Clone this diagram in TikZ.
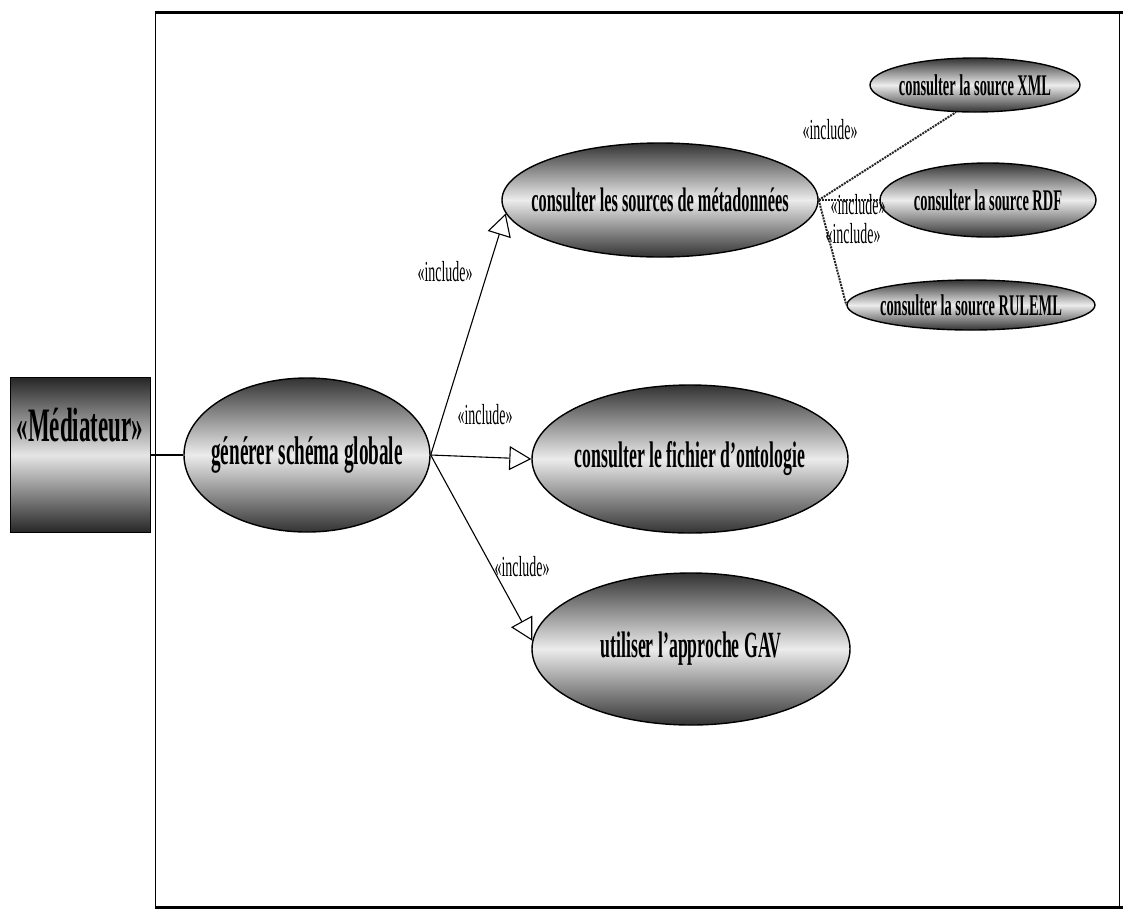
\documentclass[tikz,border=0pt]{standalone}
\usepackage{fontspec}
\setmainfont{Liberation Serif}[FakeStretch=0.48]
\usetikzlibrary{shapes}
\usetikzlibrary{arrows.meta}

\newcommand{\uctext}[1]{\makebox[0pt]{\bfseries #1}}

\tikzset{
  usecase/.style={draw=black, line width=1.4pt, ellipse, inner sep=0pt,
                  top color=gray!40!black, bottom color=gray!40!black,
                  middle color=gray!15},
  incl/.style={font=\fontsize{29}{29}\selectfont},
  inclarrow/.style={line width=1.1pt, -{Triangle[open,length=22pt,width=24pt]}},
  incldot/.style={line width=2pt, densely dotted, gray!30!black},
}

\begin{document}
\begin{tikzpicture}[x=1pt, y=-1pt]
    \useasboundingbox (0,0) rectangle (1123,914);

    % cadre du systeme
    \draw[line width=0.9pt] (155,12) rectangle (1119,907);
    \draw[line width=3pt] (155,12) -- (1123,12);
    \draw[line width=3pt] (155,907) -- (1123,907);

    % acteur
    \node[draw, rectangle, line width=0.8pt, inner sep=0pt,
          minimum width=140, text height=64, text depth=91,
          top color=gray!30!black, bottom color=black!85,
          middle color=gray!20, font=\fontsize{48}{48}\selectfont] (med) at (80,455)
    {\uctext{«Médiateur»}};

    % cas d'utilisation
    \node[usecase, minimum width=246, minimum height=154,
          font=\fontsize{40}{40}\selectfont] (gen) at (307,455)
    {\uctext{générer schéma globale}};
    \node[usecase, minimum width=316, minimum height=114,
          font=\fontsize{34}{34}\selectfont] (meta) at (660,200)
    {\uctext{consulter les sources de métadonnées}};
    \node[usecase, minimum width=316, minimum height=148,
          font=\fontsize{37}{37}\selectfont] (onto) at (690,459)
    {\uctext{consulter le fichier d'ontologie}};
    \node[usecase, minimum width=318, minimum height=152,
          font=\fontsize{37}{37}\selectfont] (gav) at (691,649)
    {\uctext{utiliser l'approche GAV}};
    \node[usecase, minimum width=210, minimum height=54,
          font=\fontsize{30}{30}\selectfont] (xml) at (975,85)
    {\uctext{consulter la source XML}};
    \node[usecase, minimum width=216, minimum height=74,
          font=\fontsize{30}{30}\selectfont] (rdf) at (988,200)
    {\uctext{consulter la source RDF}};
    \node[usecase, minimum width=248, minimum height=50,
          font=\fontsize{30}{30}\selectfont] (rule) at (971,305)
    {\uctext{consulter la source RULEML}};

    % association
    \draw[line width=1.6pt] (med.east |- gen.west) -- (gen.west);

    % relations include
    \draw[inclarrow] (gen.east) -- (meta.185);
    \draw[inclarrow] (gen.east) -- (onto.west);
    \draw[inclarrow] (gen.east) -- (gav.177);

    \draw[incldot] (meta.east) -- (xml.235);
    \draw[incldot] (meta.east) -- (rdf.west);
    \draw[incldot] (meta.east) -- (rule.west);

    \node[incl] (l1) at (445,272) {«include»};
    \node[incl] (l2) at (485,415) {«include»};
    \node[incl] (l3) at (522,567) {«include»};
    \node[incl] (l4) at (830,130) {«include»};
    \node[incl] (l5) at (858,205) {«include»};
    \node[incl] (l6) at (853,234) {«include»};
\end{tikzpicture}
\end{document}
